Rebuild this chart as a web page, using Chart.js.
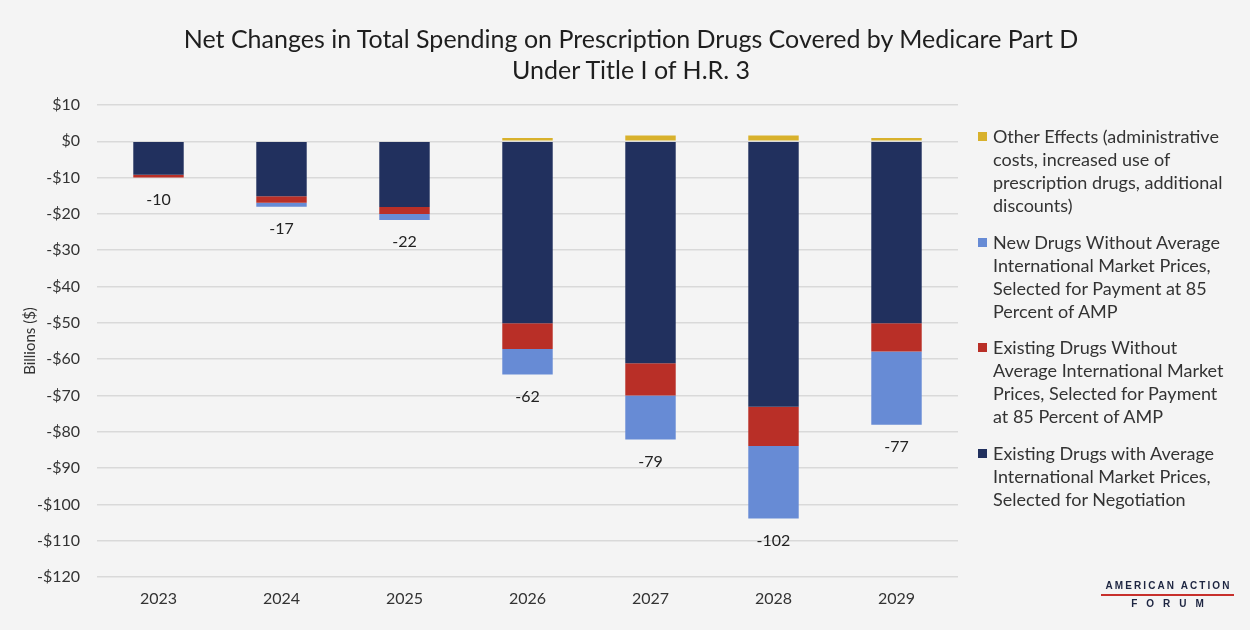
<!DOCTYPE html>
<html>
<head>
<meta charset="utf-8">
<script src="https://cdn.jsdelivr.net/npm/chart.js@4.4.0/dist/chart.umd.min.js"></script>
<style>
  html, body { margin: 0; padding: 0; }
  body {
    width: 1250px; height: 630px; position: relative; overflow: hidden;
    background: #f4f4f4; font-family: Lato, "Open Sans", sans-serif;
  }
  #chart { position: absolute; left: 0; top: 0; }
  #title {
    position: absolute; left: 0; top: 23px; width: 1262px;
    text-align: center; font-size: 25px; line-height: 31px; color: #1e1e1e;
  }
  #legend {
    position: absolute; left: 978px; top: 125px;
    font-size: 18px; line-height: 23px; color: #333;
  }
  .item { position: relative; padding-left: 15px; margin-bottom: 13.7px; white-space: nowrap; }
  .item .sw { position: absolute; left: 0; top: 7px; width: 9px; height: 9px; }
  #logo {
    position: absolute; left: 1101px; top: 580px; width: 133px;
    text-align: center; color: #1d2541; font-weight: 700;
    font-family: "Liberation Sans", Arial, sans-serif;
  }
  #logo .l1 { font-size: 10px; letter-spacing: 2.1px; line-height: 12px; padding-left: 2px; }
  #logo .bar { height: 2px; background: #c7302c; margin: 2px 0 2px; }
  #logo .l2 { font-size: 10px; letter-spacing: 9px; line-height: 12px; padding-left: 9px; }
</style>
</head>
<body>
<canvas id="chart" width="1250" height="630"></canvas>
<div id="title">Net Changes in Total Spending on Prescription Drugs Covered by Medicare Part D<br>Under Title I of H.R. 3</div>
<div id="legend"></div>
<div id="logo">
  <div class="l1">AMERICAN ACTION</div>
  <div class="bar"></div>
  <div class="l2">FORUM</div>
</div>
<script>
// values in billions of dollars
const years = ['2023', '2024', '2025', '2026', '2027', '2028', '2029'];
const existingWithIntl = [-9.2, -15.1, -18.1, -50.1, -61.1, -73.1, -50.1];
const existingWithoutIntl = [-0.8, -1.8, -1.9, -7.1, -8.9, -10.8, -7.8];
const newWithoutIntl = [0, -1.1, -1.7, -7.0, -12.1, -20.0, -20.2];
const otherEffects = [0, 0, 0, 0.9, 1.6, 1.6, 0.9];
const netTotals = [-10, -17, -22, -62, -79, -102, -77];

const yTicks = { min: -120, max: 10, step: 10 };

// legend text, broken into lines like the original
const legendOther = ['Other Effects (administrative', 'costs, increased use of', 'prescription drugs, additional', 'discounts)'];
const legendNew = ['New Drugs Without Average', 'International Market Prices,', 'Selected for Payment at 85', 'Percent of AMP'];
const legendWithout = ['Existing Drugs Without', 'Average International Market', 'Prices, Selected for Payment', 'at 85 Percent of AMP'];
const legendWith = ['Existing Drugs with Average', 'International Market Prices,', 'Selected for Negotiation'];

const colors = {
  navy: '#21305e',
  red: '#b92f27',
  blue: '#678bd5',
  gold: '#d8b12c'
};

const FONT = 'Lato, "Open Sans", sans-serif';

// draws the net total under each stack
const totalLabels = {
    id: 'totalLabels',
    afterDatasetsDraw(chart) {
        const { ctx, scales: { x, y } } = chart;
        ctx.save();
        ctx.font = '16px ' + FONT;
        ctx.fillStyle = '#222';
        ctx.textAlign = 'center';
        ctx.textBaseline = 'middle';
        netTotals.forEach((t, i) => {
            const bottom = existingWithIntl[i] + existingWithoutIntl[i] + newWithoutIntl[i];
            ctx.fillText(String(t), x.getPixelForValue(i), y.getPixelForValue(bottom) + 22);
        });
        ctx.restore();
    }
};

const datasets = [
    { label: legendWith.join(' '), data: existingWithIntl, backgroundColor: colors.navy },
    { label: legendWithout.join(' '), data: existingWithoutIntl, backgroundColor: colors.red },
    { label: legendNew.join(' '), data: newWithoutIntl, backgroundColor: colors.blue },
    { label: legendOther.join(' '), data: otherEffects, backgroundColor: colors.gold }
].map(d => Object.assign(d, { barPercentage: 0.41, categoryPercentage: 1 }));

new Chart(document.getElementById('chart'), {
    type: 'bar',
    data: { labels: years, datasets: datasets },
    options: {
        responsive: false,
        animation: false,
        layout: { padding: { top: 105, right: 292, left: 0, bottom: 0 } },
        plugins: {
            legend: { display: false },
            tooltip: { enabled: false },
            title: { display: false }
        },
        scales: {
            x: {
                stacked: true,
                grid: { display: false, drawTicks: false },
                border: { display: false },
                ticks: { color: '#333', font: { size: 16, family: FONT }, padding: 12 },
                afterFit: s => { s.height = 53; }
            },
            y: {
                stacked: true,
                min: yTicks.min,
                max: yTicks.max,
                ticks: {
                    stepSize: yTicks.step,
                    padding: 17,
                    color: '#333',
                    font: { size: 16, family: FONT },
                    callback: v => (v < 0 ? '-$' : '$') + Math.abs(v)
                },
                grid: { color: '#d9d9d9', lineWidth: 1.5, drawTicks: false },
                border: { display: false },
                title: {
                    display: true,
                    text: 'Billions ($)',
                    color: '#333',
                    font: { size: 15, family: FONT },
                    padding: { top: 21, bottom: 0 }
                },
                afterFit: s => { s.width = 97; }
            }
        }
    },
    plugins: [totalLabels]
});

// html legend so the long names can wrap
const legend = document.getElementById('legend');
[[legendOther, colors.gold], [legendNew, colors.blue], [legendWithout, colors.red], [legendWith, colors.navy]]
    .forEach(([lines, color]) => {
        const item = document.createElement('div');
        item.className = 'item';
        item.innerHTML = `<span class="sw" style="background:${color}"></span>${lines.join('<br>')}`;
        legend.appendChild(item);
    });
</script>
</body>
</html>
